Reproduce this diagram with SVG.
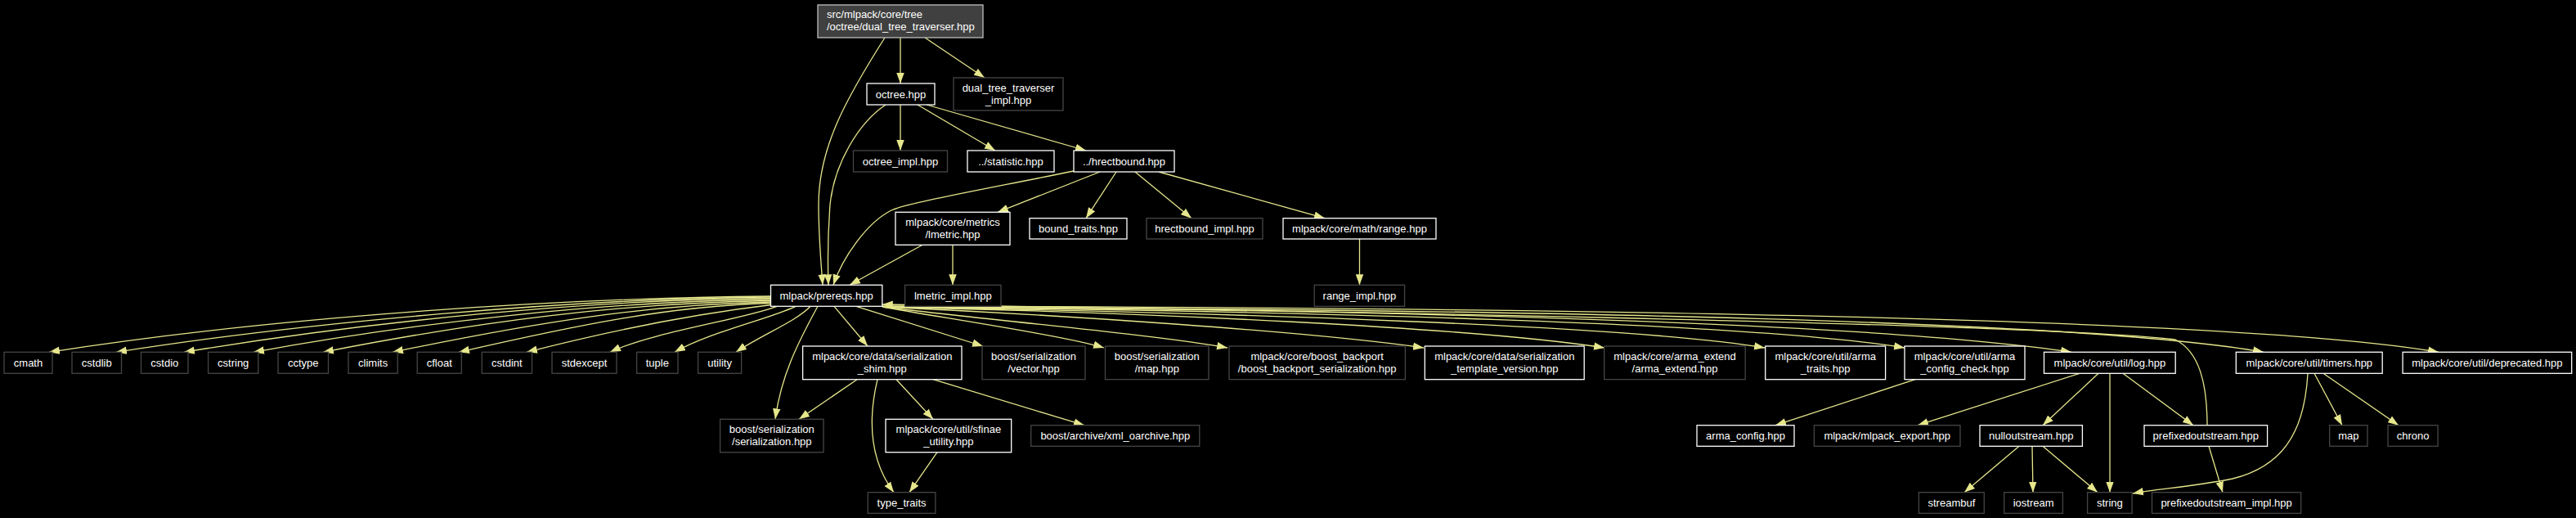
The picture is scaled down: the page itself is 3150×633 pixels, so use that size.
<svg xmlns="http://www.w3.org/2000/svg" width="3150" height="633" viewBox="0 0 3150 633">
<style>
.bg{fill:#000}
.n rect{fill:#000;stroke-width:1.3}
.w rect{stroke:#ffffff}
.g rect{stroke:#454545}
.root rect{fill:#404040;stroke:#bfbfbf}
text{font-family:"Liberation Sans",Arial,sans-serif;font-size:13px;fill:#ffffff;text-anchor:middle}
.root text{text-anchor:start}
#edges path{fill:none;stroke:#e6e68c;stroke-width:1.3;marker-end:url(#ah)}
</style>
<defs>
<marker id="ah" markerUnits="userSpaceOnUse" markerWidth="13" markerHeight="10" refX="13" refY="4.75" orient="auto" viewBox="0 0 13 9.5">
<path d="M0,0 L13,4.75 L0,9.5 z" fill="#e6e68c"/>
</marker>
</defs>
<rect class="bg" x="0" y="0" width="3150" height="633"/>
<g id="edges">
<path d="M1101,46 L1101,102"/>
<path d="M1131,46 L1204,95"/>
<path d="M1082,46 C1035,120 1001,180 1001,250 C1001,290 1004,320 1006,348.3"/>
<path d="M1101,128 L1101,184"/>
<path d="M1122,128 L1217,184"/>
<path d="M1133,128 L1328,184"/>
<path d="M1083,128 C1050,150 1020,200 1015,250 C1012,290 1012,320 1013,348.3"/>
<path d="M1313,209 C1200,232 1110,248 1090,257 C1060,272 1030,315 1019,348.3"/>
<path d="M1345,210 L1220,259.3"/>
<path d="M1365,210 L1328,266.7"/>
<path d="M1388,210 L1457,266.7"/>
<path d="M1417,210 L1620,266.7"/>
<path d="M1128,299.3 L1039,348.3"/>
<path d="M1165,299.3 L1165,348.3"/>
<path d="M1662.5,292 L1662.5,348.3"/>
<path d="M942.5,362 C700,364 350,385 60,430.3"/>
<path d="M942.5,363 C700,365 380,393 142,430.3"/>
<path d="M942.5,364.5 C720,366 450,393 225,430.3"/>
<path d="M942.5,366 C740,368 510,394 310,430.3"/>
<path d="M942.5,367.5 C760,370 585,393 395,430.3"/>
<path d="M942.5,369 C790,372 650,395 480,430.3"/>
<path d="M942.5,370.5 C820,374 711,396 561,430.3"/>
<path d="M943,372.5 C880,380 774,397 644,430.3"/>
<path d="M950,374.3 C910,390 800,405 746,430.3"/>
<path d="M973,374.3 C940,390 870,405 825,430.3"/>
<path d="M991,374.3 C975,392 930,410 900,430.3"/>
<path d="M1000,374.3 C975,420 955,460 948,512.3"/>
<path d="M1020,374.3 L1061,423"/>
<path d="M1047,374.3 L1202,423"/>
<path d="M1079,375 C1150,388 1300,410 1350,425"/>
<path d="M1079,375 C1200,390 1420,410 1501,425"/>
<path d="M1079,375 C1300,385 1600,405 1741,425"/>
<path d="M1079,375 C1400,382 1800,400 1962,425"/>
<path d="M1079,375 C1500,382 2000,398 2158,425"/>
<path d="M1079,375 C1600,380 2150,395 2329,425"/>
<path d="M1079,375 C1700,378 2300,395 2533,430.3"/>
<path d="M1079,375 C1900,378 2550,392 2768,430.3"/>
<path d="M1079,374 C2000,376 2750,390 2982,430.3"/>
<path d="M2699,519.7 C2699,470 2690,430 2660,415 C2500,395 1500,378 1078.8,372"/>
<path d="M1048,463.7 L977,512.3"/>
<path d="M1073,463.7 C1062,510 1062,560 1093,601.7"/>
<path d="M1096,463.7 L1141,512.3"/>
<path d="M1141,463.7 L1326,519.7"/>
<path d="M1146,552.7 L1112,601.7"/>
<path d="M2342,463.7 L2171,519.7"/>
<path d="M2543,456.3 L2345,519.7"/>
<path d="M2566,456.3 L2498,519.7"/>
<path d="M2580,456.3 L2580,601.7"/>
<path d="M2596,456.3 L2682,519.7"/>
<path d="M2469,545.3 L2402,601.7"/>
<path d="M2485,545.3 L2486,601.7"/>
<path d="M2498,545.3 L2565,601.7"/>
<path d="M2701,545.3 L2718,601.7"/>
<path d="M2822,456.3 C2818,530 2790,570 2730,585 C2680,595 2640,597 2608,603"/>
<path d="M2830,456.3 L2864,519.7"/>
<path d="M2841,456.3 L2933,519.7"/>
</g>
<g id="n_root" class="n root"><rect x="1000" y="6" width="202" height="40"/><text x="1011" y="22">src/mlpack/core/tree</text><text x="1011" y="37">/octree/dual_tree_traverser.hpp</text></g>
<g id="n_octree" class="n w"><rect x="1060" y="102" width="83" height="26"/><text x="1101.5" y="119.5">octree.hpp</text></g>
<g id="n_dtt_impl" class="n g"><rect x="1166" y="95" width="134" height="40"/><text x="1233" y="111.5">dual_tree_traverser</text><text x="1233" y="126.5">_impl.hpp</text></g>
<g id="n_octree_impl" class="n g"><rect x="1043.5" y="184" width="115" height="26"/><text x="1101" y="201.5">octree_impl.hpp</text></g>
<g id="n_statistic" class="n w"><rect x="1183" y="184" width="106" height="26"/><text x="1236" y="201.5">../statistic.hpp</text></g>
<g id="n_hrectbound" class="n w"><rect x="1313" y="184" width="123" height="26"/><text x="1374.5" y="201.5">../hrectbound.hpp</text></g>
<g id="n_lmetric" class="n w"><rect x="1095" y="259.3" width="140" height="40"/><text x="1165" y="275.8">mlpack/core/metrics</text><text x="1165" y="290.8">/lmetric.hpp</text></g>
<g id="n_bound_traits" class="n w"><rect x="1259" y="266.7" width="119" height="25.3"/><text x="1318.5" y="283.8">bound_traits.hpp</text></g>
<g id="n_hrectbound_impl" class="n g"><rect x="1402" y="266.7" width="142" height="25.3"/><text x="1473" y="283.8">hrectbound_impl.hpp</text></g>
<g id="n_range" class="n w"><rect x="1569" y="266.7" width="187" height="25.3"/><text x="1662.5" y="283.8">mlpack/core/math/range.hpp</text></g>
<g id="n_prereqs" class="n w"><rect x="942.5" y="348.3" width="136.3" height="26"/><text x="1010.6" y="365.8">mlpack/prereqs.hpp</text></g>
<g id="n_lmetric_impl" class="n g"><rect x="1106.6" y="348.3" width="117.4" height="26"/><text x="1165.3" y="365.8">lmetric_impl.hpp</text></g>
<g id="n_range_impl" class="n g"><rect x="1607.2" y="348.3" width="110.4" height="26"/><text x="1662.4" y="365.8">range_impl.hpp</text></g>
<g id="n_cmath" class="n g"><rect x="5" y="430.3" width="59" height="26"/><text x="34.5" y="447.8">cmath</text></g>
<g id="n_cstdlib" class="n g"><rect x="88" y="430.3" width="60.5" height="26"/><text x="118.3" y="447.8">cstdlib</text></g>
<g id="n_cstdio" class="n g"><rect x="172.5" y="430.3" width="57.5" height="26"/><text x="201.3" y="447.8">cstdio</text></g>
<g id="n_cstring" class="n g"><rect x="254.6" y="430.3" width="61.2" height="26"/><text x="285.2" y="447.8">cstring</text></g>
<g id="n_cctype" class="n g"><rect x="340" y="430.3" width="61.5" height="26"/><text x="370.8" y="447.8">cctype</text></g>
<g id="n_climits" class="n g"><rect x="426" y="430.3" width="60.2" height="26"/><text x="456.1" y="447.8">climits</text></g>
<g id="n_cfloat" class="n g"><rect x="510.2" y="430.3" width="54.1" height="26"/><text x="537.3" y="447.8">cfloat</text></g>
<g id="n_cstdint" class="n g"><rect x="589.3" y="430.3" width="61.2" height="26"/><text x="619.9" y="447.8">cstdint</text></g>
<g id="n_stdexcept" class="n g"><rect x="675" y="430.3" width="79" height="26"/><text x="714.5" y="447.8">stdexcept</text></g>
<g id="n_tuple" class="n g"><rect x="778.6" y="430.3" width="50.4" height="26"/><text x="803.8" y="447.8">tuple</text></g>
<g id="n_utility" class="n g"><rect x="853.6" y="430.3" width="53" height="26"/><text x="880.1" y="447.8">utility</text></g>
<g id="n_shim" class="n w"><rect x="981.6" y="423" width="194.4" height="40.7"/><text x="1078.8" y="439.8">mlpack/core/data/serialization</text><text x="1078.8" y="454.8">_shim.hpp</text></g>
<g id="n_vector" class="n g"><rect x="1201" y="423" width="126" height="40.7"/><text x="1264" y="439.8">boost/serialization</text><text x="1264" y="454.8">/vector.hpp</text></g>
<g id="n_bmap" class="n g"><rect x="1351.5" y="423" width="126.5" height="40.7"/><text x="1414.8" y="439.8">boost/serialization</text><text x="1414.8" y="454.8">/map.hpp</text></g>
<g id="n_backport" class="n g"><rect x="1503" y="423" width="215.4" height="40.7"/><text x="1610.7" y="439.8">mlpack/core/boost_backport</text><text x="1610.7" y="454.8">/boost_backport_serialization.hpp</text></g>
<g id="n_template_version" class="n w"><rect x="1742.3" y="423" width="194.9" height="40.7"/><text x="1839.8" y="439.8">mlpack/core/data/serialization</text><text x="1839.8" y="454.8">_template_version.hpp</text></g>
<g id="n_arma_extend" class="n g"><rect x="1961.7" y="423" width="172.5" height="40.7"/><text x="2048" y="439.8">mlpack/core/arma_extend</text><text x="2048" y="454.8">/arma_extend.hpp</text></g>
<g id="n_arma_traits" class="n w"><rect x="2158.7" y="423" width="146.9" height="40.7"/><text x="2232.2" y="439.8">mlpack/core/util/arma</text><text x="2232.2" y="454.8">_traits.hpp</text></g>
<g id="n_arma_config_check" class="n w"><rect x="2329" y="423" width="147" height="40.7"/><text x="2402.5" y="439.8">mlpack/core/util/arma</text><text x="2402.5" y="454.8">_config_check.hpp</text></g>
<g id="n_log" class="n w"><rect x="2499.5" y="430.3" width="160.7" height="26"/><text x="2579.9" y="447.8">mlpack/core/util/log.hpp</text></g>
<g id="n_timers" class="n w"><rect x="2734.3" y="430.3" width="178.9" height="26"/><text x="2823.8" y="447.8">mlpack/core/util/timers.hpp</text></g>
<g id="n_deprecated" class="n w"><rect x="2938.1" y="430.3" width="206.6" height="26"/><text x="3041.4" y="447.8">mlpack/core/util/deprecated.hpp</text></g>
<g id="n_serialization" class="n g"><rect x="880.6" y="512.3" width="126.4" height="40.4"/><text x="943.8" y="529">boost/serialization</text><text x="943.8" y="544">/serialization.hpp</text></g>
<g id="n_sfinae" class="n w"><rect x="1083" y="512.3" width="153.7" height="40.4"/><text x="1159.9" y="529">mlpack/core/util/sfinae</text><text x="1159.9" y="544">_utility.hpp</text></g>
<g id="n_xml_oarchive" class="n g"><rect x="1260.7" y="519.7" width="206.1" height="25.6"/><text x="1363.8" y="537">boost/archive/xml_oarchive.hpp</text></g>
<g id="n_arma_config" class="n w"><rect x="2075" y="519.7" width="119" height="25.6"/><text x="2134.5" y="537">arma_config.hpp</text></g>
<g id="n_mlpack_export" class="n g"><rect x="2218.4" y="519.7" width="178.6" height="25.6"/><text x="2307.7" y="537">mlpack/mlpack_export.hpp</text></g>
<g id="n_nulloutstream" class="n w"><rect x="2421" y="519.7" width="125.4" height="25.6"/><text x="2483.7" y="537">nulloutstream.hpp</text></g>
<g id="n_prefixedoutstream" class="n w"><rect x="2622" y="519.7" width="150.6" height="25.6"/><text x="2697.3" y="537">prefixedoutstream.hpp</text></g>
<g id="n_map" class="n g"><rect x="2848.7" y="519.7" width="46.3" height="25.6"/><text x="2871.9" y="537">map</text></g>
<g id="n_chrono" class="n g"><rect x="2920" y="519.7" width="61.1" height="25.6"/><text x="2950.6" y="537">chrono</text></g>
<g id="n_type_traits" class="n g"><rect x="1061.2" y="601.7" width="82.7" height="25.6"/><text x="1102.6" y="619">type_traits</text></g>
<g id="n_streambuf" class="n g"><rect x="2346.4" y="601.7" width="79.9" height="25.6"/><text x="2386.4" y="619">streambuf</text></g>
<g id="n_iostream" class="n g"><rect x="2450.7" y="601.7" width="71.7" height="25.6"/><text x="2486.6" y="619">iostream</text></g>
<g id="n_string" class="n g"><rect x="2552.6" y="601.7" width="54.5" height="25.6"/><text x="2579.9" y="619">string</text></g>
<g id="n_prefixedoutstream_impl" class="n g"><rect x="2631.5" y="601.7" width="182.2" height="25.6"/><text x="2722.6" y="619">prefixedoutstream_impl.hpp</text></g>
</svg>
